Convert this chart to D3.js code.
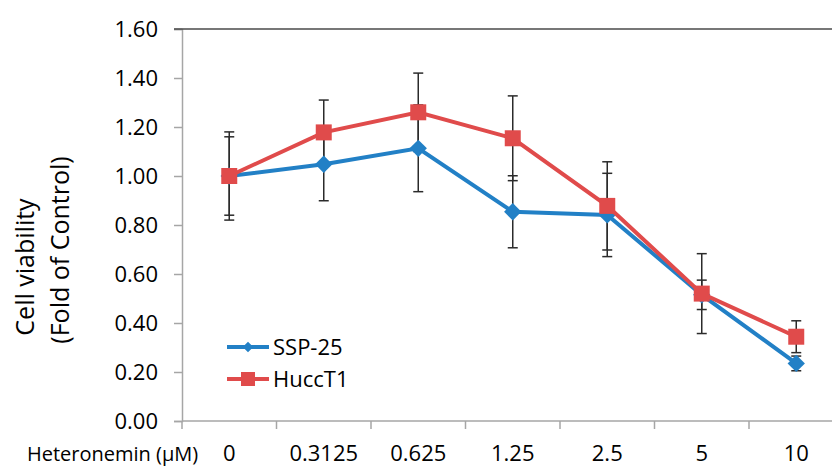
<!DOCTYPE html>
<html>
<head>
<meta charset="utf-8">
<script src="https://d3js.org/d3.v7.min.js"></script>
<style>
  body { margin: 0; background: #fff; }
  text { font-family: "Open Sans", sans-serif; fill: #000; }
</style>
</head>
<body>
<svg width=832 height=466></svg>
<script>
var doses = ["0", "0.3125", "0.625", "1.25", "2.5", "5", "10"]
var ssp25 = [1.00, 1.048, 1.113, 0.854, 0.841, 0.515, 0.235]
var ssp25Err = [0.16, 0.149, 0.177, 0.147, 0.17, 0.06, 0.03]
var hucct1 = [1.00, 1.178, 1.26, 1.154, 0.878, 0.52, 0.344]
var hucct1Err = [0.18, 0.132, 0.16, 0.173, 0.18, 0.163, 0.065]
var yTicks = [0, 0.2, 0.4, 0.6, 0.8, 1.0, 1.2, 1.4, 1.6]

var blue = "#2280c6"
var red = "#e04b4b"

var svg = d3.select('svg')

var x = d3.scaleBand().domain(doses).range([182, 843.5])
var y = d3.scaleLinear().domain([0, 1.6]).range([421, 29])
var cx = function(d) { return x(d) + x.bandwidth() / 2 }

  // y axis
  var yAxis = svg.append('g')
    .attr('transform', 'translate(182,0)')
    .call(d3.axisLeft(y).tickValues(yTicks).tickFormat(d3.format('.2f')).tickSize(8).tickPadding(16))
  yAxis.select('.domain').attr('stroke', '#a6a6a6').attr('stroke-width', 1.5)
  yAxis.selectAll('.tick line').attr('stroke', '#a6a6a6').attr('stroke-width', 1.5)
  yAxis.selectAll('.tick text').attr('font-size', 22).attr('font-family', '"Open Sans", sans-serif').attr('fill', '#000')

  // top line at max
  svg.append('line')
    .attr('x1', 174).attr('x2', 832)
    .attr('y1', y(1.6)).attr('y2', y(1.6))
    .attr('stroke', '#4a4a4a').attr('stroke-width', 1.5)

  // x axis
  svg.append('line')
    .attr('x1', 182).attr('x2', 832)
    .attr('y1', y(0)).attr('y2', y(0))
    .attr('stroke', '#a6a6a6').attr('stroke-width', 1.5)
  svg.selectAll('.xtick')
    .data(doses)
    .enter().append('line')
    .attr('x1', function(d) { return x(d) }).attr('x2', function(d) { return x(d) })
    .attr('y1', y(0)).attr('y2', y(0) + 8)
    .attr('stroke', '#a6a6a6').attr('stroke-width', 1.5)
  svg.selectAll('.xlabel')
    .data(doses)
    .enter().append('text')
    .attr('x', cx)
    .attr('y', 461)
    .attr('text-anchor', 'middle')
    .attr('font-size', 22)
    .text(function(d) { return d })

  svg.append('text')
    .attr('x', 27).attr('y', 461)
    .attr('font-size', 20)
    .text('Heteronemin (μM)')

  // y title
  svg.append('text')
    .attr('transform', 'translate(34,267) rotate(-90)')
    .attr('text-anchor', 'middle')
    .attr('font-size', 25)
    .text('Cell viability')
  svg.append('text')
    .attr('transform', 'translate(69,250) rotate(-90)')
    .attr('text-anchor', 'middle')
    .attr('font-size', 25)
    .text('(Fold of Control)')

var series = [
  { name: 'SSP-25', vals: ssp25, err: ssp25Err, color: blue, shape: 'diamond' },
  { name: 'HuccT1', vals: hucct1, err: hucct1Err, color: red, shape: 'square' }
]

var square = d3.symbol().type(d3.symbolSquare).size(256)
var diamond = d3.symbol().type(d3.symbolSquare).size(150)
var line = d3.line()
  .x(function(d, i) { return cx(doses[i]) })
  .y(function(d) { return y(d) })

  // error bars
  series.forEach(function(s) {
    var g = svg.append('g').attr('stroke', '#2b2b2b').attr('stroke-width', 1.5)
    doses.forEach(function(d, i) {
      var hi = y(s.vals[i] + s.err[i]), lo = y(s.vals[i] - s.err[i])
      g.append('line').attr('x1', cx(d)).attr('x2', cx(d)).attr('y1', hi).attr('y2', lo)
      g.append('line').attr('x1', cx(d) - 5).attr('x2', cx(d) + 5).attr('y1', hi).attr('y2', hi)
      g.append('line').attr('x1', cx(d) - 5).attr('x2', cx(d) + 5).attr('y1', lo).attr('y2', lo)
    })
  })

  // lines + markers
  series.forEach(function(s) {
    svg.append('path')
      .attr('d', line(s.vals))
      .attr('fill', 'none')
      .attr('stroke', s.color)
      .attr('stroke-width', 4)
    svg.selectAll('.m' + s.shape)
      .data(s.vals)
      .enter().append('path')
      .attr('d', s.shape == 'square' ? square : diamond)
      .attr('transform', function(d, i) {
        return 'translate(' + cx(doses[i]) + ',' + y(d) + ')' + (s.shape == 'diamond' ? ' rotate(45)' : '')
      })
      .attr('fill', s.color)
  })

  // legend
  series.forEach(function(s, i) {
    var ly = 347 + i * 32
    svg.append('line')
      .attr('x1', 227).attr('x2', 269).attr('y1', ly).attr('y2', ly)
      .attr('stroke', s.color).attr('stroke-width', 4)
    svg.append('path')
      .attr('d', s.shape == 'square' ? d3.symbol().type(d3.symbolSquare).size(196) : d3.symbol().type(d3.symbolSquare).size(56))
      .attr('transform', 'translate(248,' + ly + ')' + (s.shape == 'diamond' ? ' rotate(45)' : ''))
      .attr('fill', s.color)
    svg.append('text')
      .attr('x', 273).attr('y', ly + 8)
      .attr('font-size', 22)
      .text(s.name)
  })
</script>
</body>
</html>
